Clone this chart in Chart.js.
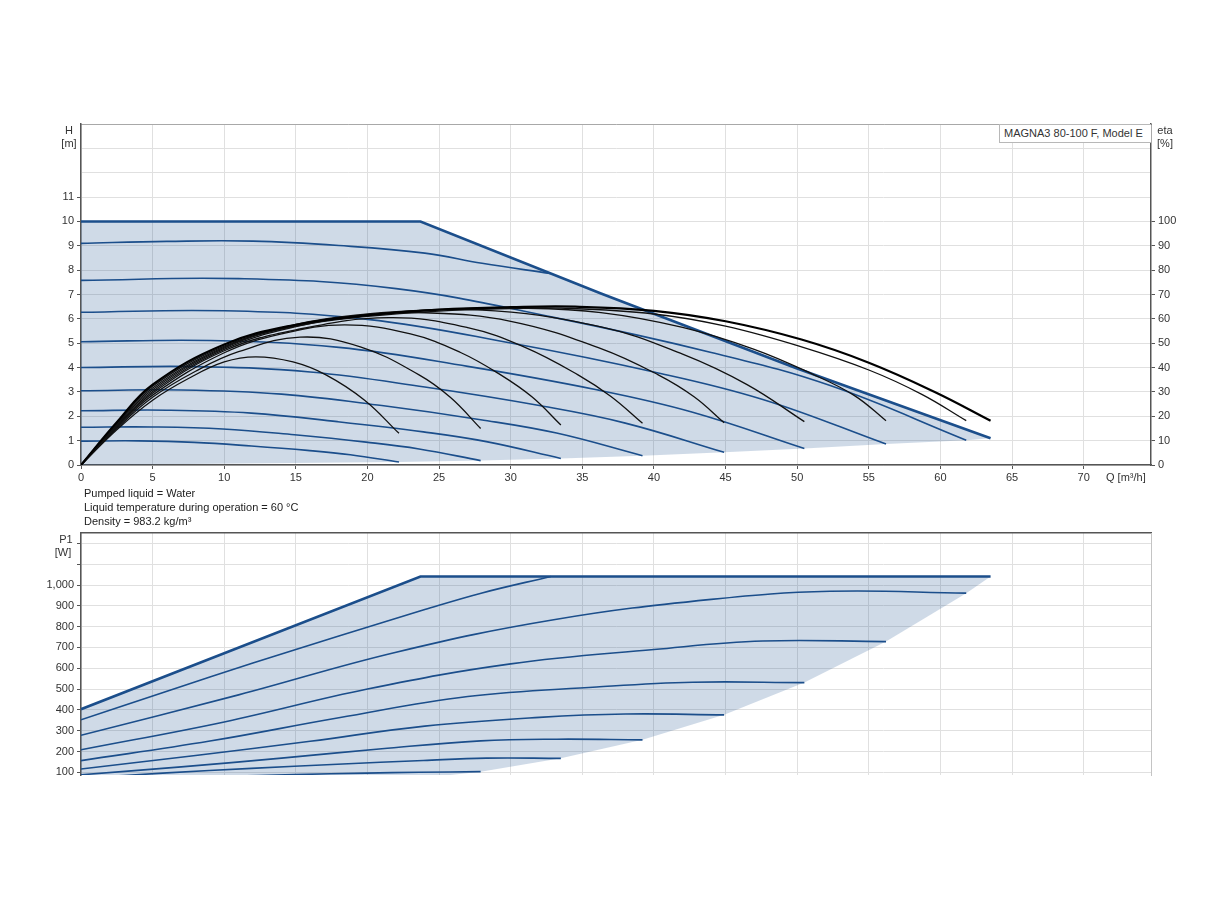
<!DOCTYPE html>
<html>
<head>
<meta charset="utf-8">
<title>MAGNA3 80-100 F</title>
<script src="https://cdn.jsdelivr.net/npm/chart.js@4.4.1/dist/chart.umd.min.js"></script>
<style>
  body { margin: 0; background: #fff; font-family: 'Liberation Sans', Arial, sans-serif; }
  #page { position: relative; width: 1224px; height: 900px; overflow: hidden; }
  canvas { position: absolute; left: 0; }
  .t { position: absolute; font-size: 11px; line-height: 13px; color: #333; white-space: nowrap; z-index: 2; }
  .c { transform: translate(-50%, -50%); text-align: center; }
  .note { left: 84px; color: #222; transform: translateY(-50%); }
  #legend { position: absolute; left: 999px; top: 124px; width: 147px; height: 17px; border: 1px solid #b8b8b8;
            border-right: none; background: #fff; font-size: 11px; line-height: 17px; padding-left: 4px; color: #333; z-index: 2; }
</style>
</head>
<body>
<div id="page">
  <canvas id="hChart" width="1224" height="400" style="top:100px"></canvas>
  <canvas id="pChart" width="1224" height="300" style="top:505px"></canvas>

  <div class="t c" style="left:69px; top:130px">H</div>
  <div class="t c" style="left:69px; top:143px">[m]</div>
  <div class="t c" style="left:1165px; top:130px">eta</div>
  <div class="t c" style="left:1165px; top:143px">[%]</div>
  <div class="t" style="left:1106px; top:471px">Q [m³/h]</div>
  <div id="legend">MAGNA3 80-100 F, Model E</div>

  <div class="t note" style="top:493px">Pumped liquid = Water</div>
  <div class="t note" style="top:507px">Liquid temperature during operation = 60 °C</div>
  <div class="t note" style="top:521px">Density = 983.2 kg/m³</div>

  <div class="t c" style="left:66px; top:539px">P1</div>
  <div class="t c" style="left:63px; top:552px">[W]</div>
</div>

<script>
// axis ranges
const Q_MAX = 74.7;
const H_MAX = 14;
const ETA_MAX = 140;
const P_MIN = 87;
const P_MAX = 1250;

// H curves, Q [m3/h] / H [m], one per speed
const hQ1 = [0, 4.0, 7.9, 11.9, 15.8, 18.8, 22.2];
const hH1 = [0.98, 0.99, 0.93, 0.78, 0.60, 0.42, 0.12];
const hQ2 = [0, 5.0, 9.9, 14.9, 19.9, 23.6, 27.9];
const hH2 = [1.55, 1.56, 1.48, 1.24, 0.94, 0.66, 0.18];
const hQ3 = [0, 6.0, 11.9, 17.9, 23.9, 28.3, 33.5];
const hH3 = [2.23, 2.25, 2.13, 1.78, 1.36, 0.96, 0.27];
const hQ4 = [0, 7.0, 14.0, 21.0, 27.9, 33.2, 39.2];
const hH4 = [3.05, 3.08, 2.91, 2.44, 1.86, 1.31, 0.38];
const hQ5 = [0, 8, 16, 24, 32, 38, 44.9];
const hH5 = [4.0, 4.04, 3.82, 3.2, 2.44, 1.72, 0.52];
const hQ6 = [0, 9.0, 18.0, 27.0, 36.0, 42.7, 50.5];
const hH6 = [5.06, 5.11, 4.83, 4.05, 3.09, 2.17, 0.68];
const hQ7 = [0, 10.0, 20.0, 30.0, 40.0, 47.6, 56.2];
const hH7 = [6.27, 6.33, 5.98, 5.01, 3.82, 2.69, 0.86];
const hQ8 = [0, 11.0, 22.0, 33.0, 44.0, 52.3, 61.8];
const hH8 = [7.58, 7.65, 7.24, 6.06, 4.62, 3.26, 1.02];
const hQ9 = [0, 6, 12, 18, 24, 28, 32.8];
const hH9 = [9.1, 9.18, 9.19, 9.01, 8.70, 8.28, 7.86];
const hQMax = [0, 23.7, 36.3, 49.9, 63.5];
const hHMax = [10, 10, 7.04, 3.98, 1.1];

// operating area (H)
const areaHQ = [0, 0, 23.7, 36.3, 49.9, 63.5, 61.8, 56.2, 50.5, 44.9, 39.2, 33.5, 27.9, 22.2];
const areaHH = [0, 10, 10, 7.04, 3.98, 1.1, 1.02, 0.86, 0.68, 0.52, 0.38, 0.27, 0.18, 0.12];

// efficiency curves, Q / eta [%]
const eQ1 = [0, 2.5, 5, 7.5, 10, 12.2, 14.8, 17.1, 19.8, 22.2];
const eta1 = [0, 14.5, 26.6, 35.5, 42.3, 44.4, 42.3, 37, 26.6, 13];
const eQ2 = [0, 2.5, 5, 8, 11, 15.3, 19.5, 23.6, 25.8, 27.9];
const eta2 = [0, 15, 27.8, 38.5, 46.5, 52.5, 48.5, 37, 27.7, 15];
const eQ3 = [0, 2.5, 5, 10, 14, 18.4, 23, 26.5, 29.3, 31.5, 33.5];
const eta3 = [0, 15.4, 28.7, 46.1, 53.8, 57.5, 53.8, 46.2, 37, 27.9, 16.4];
const eQ4 = [0, 2.5, 5, 10, 15, 21.5, 27, 31, 34.7, 37, 39.2];
const eta4 = [0, 15.8, 29.5, 46.9, 55.5, 60.5, 56.4, 48.3, 37, 28.1, 17.1];
const eQ5 = [0, 2.5, 5, 10, 15, 20, 24, 30, 36.3, 40.3, 42.8, 44.9];
const eta5 = [0, 16.2, 30.2, 47.5, 56.8, 61.3, 62.5, 59, 47.8, 37, 28, 17.3];
const eQ6 = [0, 2.5, 5, 10, 15, 20, 27.7, 36.3, 42, 46.5, 50.5];
const eta6 = [0, 16.6, 30.9, 48, 57.3, 61.6, 63.7, 56.7, 45.5, 33, 17.8];
const eQ7 = [0, 2.5, 5, 10, 15, 20, 25, 30.8, 36.3, 42, 47, 51, 54, 56.2];
const eta7 = [0, 17, 31.6, 48.4, 57.7, 62, 63.8, 64.4, 62.6, 56.5, 47.5, 37.5, 28.5, 18.2];
const eQ8 = [0, 2.5, 5, 10, 15, 20, 25, 30, 33.5, 40, 45, 50.3, 55, 58.7, 61.8];
const eta8 = [0, 17.3, 32.3, 48.8, 57, 61, 63.2, 64.2, 64.4, 62, 57, 48.5, 39, 29, 18.2];
const eQMax = [0, 2.5, 5, 10, 15, 20, 25, 30, 34.5, 40, 45, 50.3, 55, 59.6, 63.5];
const etaMax = [0, 17.6, 33, 49.5, 57.6, 61.5, 63.8, 64.8, 65, 63.3, 59, 51.5, 42, 30, 18.2];

// P1 curves [W], same flow points as the H curves
const p1 = [48, 51, 54, 56, 58, 59, 60];
const p2 = [58, 70, 80, 89, 96, 100, 103];
const p3 = [72, 97, 119, 139, 157, 168, 167];
const p4 = [88, 126, 168, 213, 251, 259, 256];
const p5 = [116, 181, 249, 322, 364, 380, 376];
const p6 = [156, 250, 362, 464, 510, 533, 531];
const p7 = [208, 342, 500, 621, 690, 731, 728];
const p8 = [278, 472, 677, 833, 931, 970, 961];
const p9 = [352, 490, 625, 755, 882, 962, 1041];
const pQMax = [0, 23.7, 63.5];
const pMax = [403, 1041, 1041];

// operating area (P1)
const areaPQ = [0, 23.7, 63.5, 61.8, 56.2, 50.5, 44.9, 39.2, 33.5, 27.9, 22.2, 0];
const areaPP = [403, 1041, 1041, 961, 728, 531, 376, 256, 167, 103, 60, 40];

const BLUE = '#1b4e8b';
const AREA = 'rgba(30,80,140,0.21)';
const GRID = '#e0e0e0';
const AXIS = '#555';

Chart.defaults.font.family = "'Liberation Sans', Arial, sans-serif";
Chart.defaults.font.size = 11;
Chart.defaults.color = '#333';
Chart.defaults.animation = false;

function pts(xs, ys) {
    return xs.map((x, i) => ({ x: x, y: ys[i] }));
}

// one curve as a line dataset (smooth unless straight)
function curve(xs, ys, color, width, axis, order, straight) {
    return {
        data: pts(xs, ys),
        borderColor: color,
        borderWidth: width,
        yAxisID: axis,
        pointRadius: 0,
        fill: false,
        tension: straight ? 0 : 0.4,
        order: order
    };
}

// filled polygon with no border
function area(xs, ys, axis) {
    return {
        data: pts(xs, ys),
        borderColor: 'transparent',
        borderWidth: 0,
        backgroundColor: AREA,
        yAxisID: axis,
        pointRadius: 0,
        fill: 'shape',
        tension: 0,
        order: 5
    };
}

function fixW(w) { return s => { s.width = w; }; }
function fixH(h) { return s => { s.height = h; }; }

// ---- H / eta chart
const hSets = [
    area(areaHQ, areaHH, 'h'),
    curve(hQ1, hH1, BLUE, 1.6, 'h', 3),
    curve(hQ2, hH2, BLUE, 1.6, 'h', 3),
    curve(hQ3, hH3, BLUE, 1.6, 'h', 3),
    curve(hQ4, hH4, BLUE, 1.6, 'h', 3),
    curve(hQ5, hH5, BLUE, 1.6, 'h', 3),
    curve(hQ6, hH6, BLUE, 1.6, 'h', 3),
    curve(hQ7, hH7, BLUE, 1.6, 'h', 3),
    curve(hQ8, hH8, BLUE, 1.6, 'h', 3),
    curve(hQ9, hH9, BLUE, 1.6, 'h', 3),
    curve(hQMax, hHMax, BLUE, 2.6, 'h', 2, true),
    curve(eQ1, eta1, '#111', 1.3, 'eta', 1),
    curve(eQ2, eta2, '#111', 1.3, 'eta', 1),
    curve(eQ3, eta3, '#111', 1.3, 'eta', 1),
    curve(eQ4, eta4, '#111', 1.3, 'eta', 1),
    curve(eQ5, eta5, '#111', 1.3, 'eta', 1),
    curve(eQ6, eta6, '#111', 1.3, 'eta', 1),
    curve(eQ7, eta7, '#111', 1.3, 'eta', 1),
    curve(eQ8, eta8, '#111', 1.3, 'eta', 1),
    curve(eQMax, etaMax, '#000', 2.2, 'eta', 0)
];

new Chart(document.getElementById('hChart'), {
    type: 'line',
    data: { datasets: hSets },
    options: {
        responsive: false,
        layout: { padding: { top: 24, left: 0, right: 0, bottom: 0 } },
        plugins: { legend: { display: false }, tooltip: { enabled: false } },
        scales: {
            x: {
                type: 'linear', min: 0, max: Q_MAX, afterFit: fixH(35),
                ticks: { stepSize: 5, includeBounds: false, autoSkip: false, maxRotation: 0, padding: 2,
                         callback: v => v <= 70 ? v : '' },
                grid: { color: GRID, tickColor: AXIS, tickLength: 4 },
                border: { color: AXIS, width: 1.5 }
            },
            xTop: {
                type: 'linear', position: 'top', min: 0, max: Q_MAX, afterFit: fixH(0),
                ticks: { display: false }, grid: { display: false },
                border: { color: '#a8a8a8', width: 1 }
            },
            h: {
                type: 'linear', position: 'left', min: 0, max: H_MAX, afterFit: fixW(81),
                ticks: { stepSize: 1, includeBounds: false, autoSkip: false, padding: 3,
                         callback: v => v <= 11 ? v : '' },
                grid: { color: GRID, tickLength: 4,
                        tickColor: c => (c.tick && c.tick.value > 11) ? 'transparent' : AXIS },
                border: { color: AXIS, width: 1.5 }
            },
            eta: {
                type: 'linear', position: 'right', min: 0, max: ETA_MAX, afterFit: fixW(73),
                ticks: { stepSize: 10, includeBounds: false, autoSkip: false, padding: 3,
                         callback: v => v <= 100 ? v : '' },
                grid: { drawOnChartArea: false, tickLength: 4,
                        tickColor: c => (c.tick && c.tick.value > 100) ? 'transparent' : AXIS },
                border: { color: AXIS, width: 1.5 }
            }
        }
    }
});

// ---- P1 chart
const pSets = [
    area(areaPQ, areaPP, 'p'),
    curve(hQ1, p1, BLUE, 1.6, 'p', 3),
    curve(hQ2, p2, BLUE, 1.6, 'p', 3),
    curve(hQ3, p3, BLUE, 1.6, 'p', 3),
    curve(hQ4, p4, BLUE, 1.6, 'p', 3),
    curve(hQ5, p5, BLUE, 1.6, 'p', 3),
    curve(hQ6, p6, BLUE, 1.6, 'p', 3),
    curve(hQ7, p7, BLUE, 1.6, 'p', 3),
    curve(hQ8, p8, BLUE, 1.6, 'p', 3),
    curve(hQ9, p9, BLUE, 1.6, 'p', 3),
    curve(pQMax, pMax, BLUE, 2.6, 'p', 2, true)
];

new Chart(document.getElementById('pChart'), {
    type: 'line',
    data: { datasets: pSets },
    options: {
        responsive: false,
        layout: { padding: { top: 28, left: 0, right: 0, bottom: 0 } },
        plugins: { legend: { display: false }, tooltip: { enabled: false } },
        scales: {
            x: {
                type: 'linear', min: 0, max: Q_MAX, afterFit: fixH(30),
                ticks: { display: false, stepSize: 5, includeBounds: false },
                grid: { color: GRID, drawTicks: false },
                border: { display: false }
            },
            xTop: {
                type: 'linear', position: 'top', min: 0, max: Q_MAX, afterFit: fixH(0),
                ticks: { display: false }, grid: { display: false },
                border: { color: AXIS, width: 1.5 }
            },
            p: {
                type: 'linear', position: 'left', min: P_MIN, max: P_MAX, afterFit: fixW(81),
                ticks: { stepSize: 100, includeBounds: false, autoSkip: false, padding: 3,
                         callback: v => v <= 1000 ? v.toLocaleString('en-US') : '' },
                grid: { color: GRID, tickColor: AXIS, tickLength: 4 },
                border: { color: AXIS, width: 1.5 }
            },
            pR: {
                type: 'linear', position: 'right', min: P_MIN, max: P_MAX, afterFit: fixW(73),
                ticks: { display: false }, grid: { display: false },
                border: { color: '#c4c4c4', width: 1 }
            }
        }
    }
});
</script>
</body>
</html>
